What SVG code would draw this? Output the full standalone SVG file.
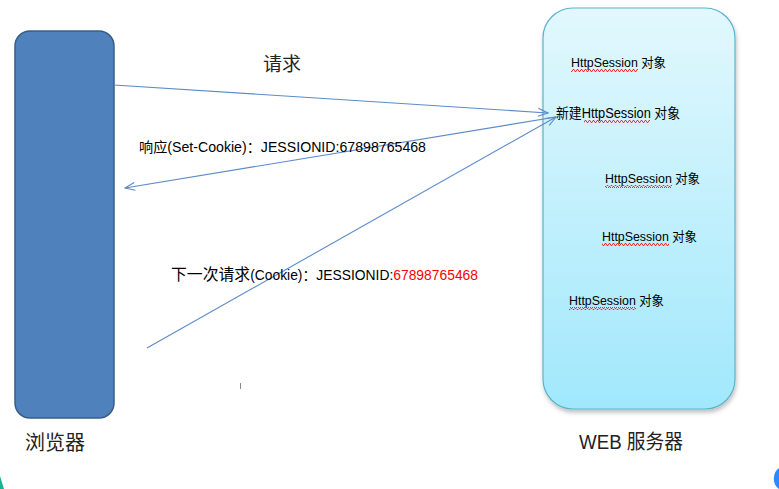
<svg xmlns="http://www.w3.org/2000/svg" width="779" height="489" viewBox="0 0 779 489">
<style>
text{font-family:"Liberation Sans","Noto Sans CJK SC",sans-serif;fill:#000}
.lbl{font-size:14px}
.obj{font-size:13px}
.big{font-size:20px;fill:#222}
.conn{stroke:#5B8BCB;stroke-width:1.1;fill:none}
.red{fill:#FF0000}
</style>
<defs>
<linearGradient id="srv" x1="0" y1="0" x2="0" y2="1">
<stop offset="0" stop-color="#E2F8FD"/>
<stop offset="1" stop-color="#A1E8FC"/>
</linearGradient>
<filter id="sh" x="-10%" y="-10%" width="120%" height="120%">
<feDropShadow dx="1" dy="3" stdDeviation="2" flood-color="#000" flood-opacity="0.25"/>
</filter>
<marker id="ah" markerWidth="12" markerHeight="10" refX="11" refY="5" orient="auto" markerUnits="userSpaceOnUse">
<path d="M1,1 L11,5 L1,9" fill="none" stroke="#5B8BCB" stroke-width="1.1"/>
</marker>
<pattern id="wave" width="4" height="3" patternUnits="userSpaceOnUse">
<path d="M0,2.5 L1,0.5 L2,0.5 L3,2.5 L4,2.5" fill="none" stroke="#FF0000" stroke-width="0.8"/>
</pattern>
</defs>
<rect width="779" height="489" fill="#FFFFFF"/>
<g id="browser">
<rect x="15" y="31" width="99" height="387" rx="15" fill="#4F81BD" stroke="#385D8A" stroke-width="1.5"/>
<text x="25" y="450" class="big">浏览器</text>
</g>
<g id="server">
<rect x="543" y="8" width="192" height="401" rx="30" fill="url(#srv)" stroke="#5BB3CF" stroke-width="1.2" filter="url(#sh)"/>
<text x="579" y="449" class="big" textLength="104" lengthAdjust="spacingAndGlyphs">WEB 服务器</text>
</g>
<g id="session1">
<text x="571" y="67" class="obj" textLength="95" lengthAdjust="spacingAndGlyphs">HttpSession 对象</text>
<rect x="571" y="69" width="67" height="3" fill="url(#wave)"/>
</g>
<g id="session-new">
<text x="556" y="118" style="font-size:14px" textLength="124" lengthAdjust="spacingAndGlyphs">新建HttpSession 对象</text>
<rect x="584" y="120" width="66" height="3" fill="url(#wave)"/>
</g>
<g id="session2">
<text x="605" y="183" class="obj" textLength="95" lengthAdjust="spacingAndGlyphs">HttpSession 对象</text>
<rect x="605" y="185" width="67" height="3" fill="url(#wave)"/>
</g>
<g id="session3">
<text x="602" y="241" class="obj" textLength="95" lengthAdjust="spacingAndGlyphs">HttpSession 对象</text>
<rect x="602" y="243" width="67" height="3" fill="url(#wave)"/>
</g>
<g id="session4">
<text x="569" y="305" class="obj" textLength="95" lengthAdjust="spacingAndGlyphs">HttpSession 对象</text>
<rect x="569" y="307" width="67" height="3" fill="url(#wave)"/>
</g>
<g id="connectors">
<line x1="114" y1="85" x2="548" y2="113" class="conn" marker-end="url(#ah)"/>
<line x1="556" y1="117" x2="125" y2="188" class="conn" marker-end="url(#ah)"/>
<line x1="147" y1="348" x2="556" y2="117" class="conn" marker-end="url(#ah)"/>
</g>
<g id="labels">
<text x="263" y="71" style="font-size:19px;fill:#222">请求</text>
<text x="139" y="152" class="lbl" textLength="287" lengthAdjust="spacingAndGlyphs">响应(Set-Cookie)：JESSIONID:67898765468</text>
<text x="171" y="280" style="font-size:14px" textLength="307" lengthAdjust="spacingAndGlyphs"><tspan style="font-size:16px">下一次请求</tspan>(Cookie)：JESSIONID:<tspan class="red">67898765468</tspan></text>
<line x1="240.5" y1="383" x2="240.5" y2="389" stroke="#888" stroke-width="1"/>
</g>
<path d="M0,476 L4,489 L0,489 Z" fill="#1AB394"/>
<path d="M779,468 A10,12 0 0 0 779,489 Z" fill="#2F88FF"/>
</svg>
